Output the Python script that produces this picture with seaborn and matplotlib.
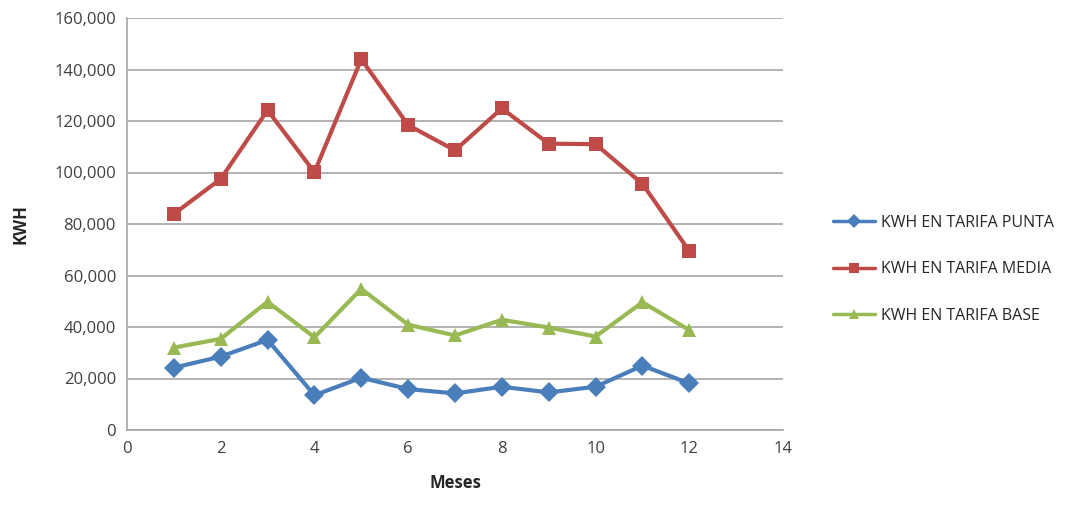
import matplotlib
matplotlib.use("Agg")
import matplotlib.pyplot as plt
import matplotlib.ticker as mticker
import seaborn as sns
import pandas as pd

meses = list(range(1, 13))
punta = [24200, 28500, 35000, 13500, 20300, 15900, 14200, 16800, 14600, 16800, 25000, 18100]
media = [83900, 97500, 124200, 100100, 144000, 118400, 108600, 124900, 111200, 111000, 95600, 69500]
base = [32000, 35400, 49800, 36000, 54800, 40900, 36700, 42800, 39800, 36300, 49600, 38800]
series_names = ["KWH EN TARIFA PUNTA", "KWH EN TARIFA MEDIA", "KWH EN TARIFA BASE"]
colors = ["#4a7ebb", "#be4b48", "#98b954"]
markers = ["D", "s", "^"]

rows = []
for name, vals in zip(series_names, [punta, media, base]):
    for m, v in zip(meses, vals):
        rows.append({"Meses": m, "KWH": v, "serie": name})
df = pd.DataFrame(rows)

sns.set_style("white")
plt.rcParams["font.family"] = ["Open Sans", "DejaVu Sans"]

fig = plt.figure(figsize=(10.68, 5.14), dpi=100)
ax = fig.add_axes([127/1068, 1 - 430/514, (783-127)/1068, (430-18)/514])

sns.lineplot(data=df, x="Meses", y="KWH", hue="serie", style="serie",
             palette=colors, markers=markers, dashes=False, markersize=10,
             linewidth=3, markeredgewidth=0, ax=ax, legend=True)

ax.set_xlim(0, 14)
ax.set_ylim(0, 160000)
ax.set_xticks(range(0, 15, 2))
ax.set_yticks(range(0, 160001, 20000))
ax.yaxis.set_major_formatter(mticker.FuncFormatter(lambda v, p: f"{int(v):,}"))
ax.grid(axis="y", color="#a6a6a6", linewidth=1.2)
ax.set_axisbelow(True)
for s in ["top", "right"]:
    ax.spines[s].set_visible(False)
for s in ["left", "bottom"]:
    ax.spines[s].set_color("#a6a6a6")
    ax.spines[s].set_linewidth(1.2)
ax.tick_params(axis="both", labelsize=12, colors="#404040", length=0, pad=8)
ax.set_xlabel("Meses", fontsize=12, fontweight="bold", color="#262626", labelpad=12)
ax.set_ylabel("KWH", fontsize=12, fontweight="bold", color="#262626", labelpad=18)

handles, labels = ax.get_legend_handles_labels()
for h in handles:
    h.set_linewidth(2.5)
    h.set_markersize(7)
leg = ax.legend(handles, labels, loc="center left", bbox_to_anchor=(1.055, 0.39),
                frameon=False, labelspacing=1.9, handlelength=2.6, handletextpad=0.4,
                prop={"family": ["Liberation Sans Narrow", "Open Sans", "DejaVu Sans"], "size": 11.5})
for t in leg.get_texts():
    t.set_color("#262626")

fig.savefig("out.png", dpi=100)
